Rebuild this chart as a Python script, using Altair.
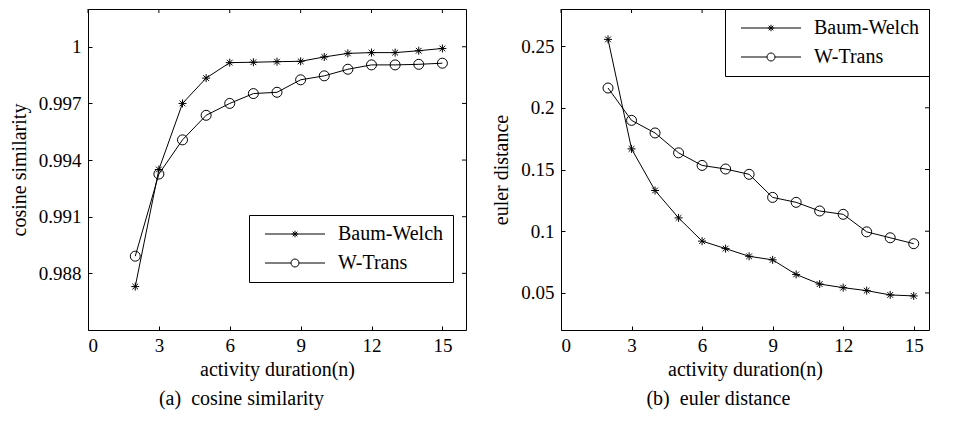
import altair as alt
import pandas as pd

# ---------------- data ----------------
n_values = list(range(2, 16))
series_names = ["Baum-Welch", "W-Trans"]

cos_baum_welch = [0.98730, 0.99350, 0.99700, 0.99834, 0.99916, 0.99918, 0.99921,
                  0.99923, 0.99946, 0.99965, 0.99969, 0.99969, 0.99979, 0.99991]
cos_w_trans = [0.98891, 0.99326, 0.99507, 0.99637, 0.99700, 0.99752, 0.99759,
               0.99825, 0.99846, 0.99881, 0.99904, 0.99904, 0.99907, 0.99913]

euler_baum_welch = [0.2554, 0.1667, 0.1330, 0.1108, 0.0920, 0.0859, 0.0797,
                    0.0768, 0.0650, 0.0572, 0.0543, 0.0519, 0.0484, 0.0476]
euler_w_trans = [0.2160, 0.1898, 0.1796, 0.1635, 0.1533, 0.1504, 0.1461,
                 0.1274, 0.1234, 0.1164, 0.1137, 0.0995, 0.0947, 0.0899]

x_tick_values = [0, 3, 6, 9, 12, 15]
cos_tick_values = [0.988, 0.991, 0.994, 0.997, 1.0]
euler_tick_values = [0.05, 0.1, 0.15, 0.2, 0.25]

FONT = "Liberation Serif"

# marker paths (unit square, scaled by sqrt(size)/2)
AST = ("M0,-0.8L0,0.8M-0.8,0L0.8,0M-0.57,-0.57L0.57,0.57M-0.57,0.57L0.57,-0.57")
# legend symbols: line + marker, units of 5px (size 100)
LEG_BW = ("M-0.6,0L11.4,0"
          "M5.4,-0.65L5.4,0.65M4.75,0L6.05,0"
          "M4.94,-0.46L5.86,0.46M4.94,0.46L5.86,-0.46")
LEG_WT = ("M-0.6,0L4.6,0M6.2,0L11.4,0"
          "M6.2,0A0.8,0.8,0,1,1,4.6,0A0.8,0.8,0,1,1,6.2,0")

TICK = 4
HEIGHT = 321


def panel(bw, wt, ydomain, yticks, yfmt, ytitle, xmax, width, legx, legy, caption):
    df = pd.DataFrame({
        "n": n_values * 2,
        "v": bw + wt,
        "series": [series_names[0]] * len(n_values) + [series_names[1]] * len(n_values),
    })
    xs = alt.Scale(domain=[0, xmax], nice=False, zero=False)
    ys = alt.Scale(domain=ydomain, nice=False, zero=False)
    base = alt.Chart(df)

    common_axis = dict(offset=-TICK, tickSize=TICK, domain=False, grid=False,
                       tickColor="black", tickWidth=1)

    lines = base.mark_line(color="black", strokeWidth=1).encode(
        x=alt.X("n:Q", scale=xs, axis=alt.Axis(
            orient="bottom", values=x_tick_values, labelPadding=6,
            title="activity duration(n)", titlePadding=4, **common_axis)),
        y=alt.Y("v:Q", scale=ys, axis=alt.Axis(
            orient="left", values=yticks, format=yfmt, labelPadding=7,
            title=ytitle, titlePadding=9, **common_axis)),
        detail="series:N",
    )

    # mirrored inward ticks on the top and right edges of the box
    top_ticks = alt.Chart(pd.DataFrame({"t": x_tick_values})).mark_rule(
        color="black", strokeWidth=1).encode(
        x=alt.X("t:Q", scale=xs, axis=None),
        y=alt.value(0), y2=alt.value(TICK),
    )
    right_ticks = alt.Chart(pd.DataFrame({"t": yticks})).mark_rule(
        color="black", strokeWidth=1).encode(
        y=alt.Y("t:Q", scale=ys, axis=None),
        x=alt.value(width - TICK), x2=alt.value(width),
    )

    points = base.mark_point(filled=False, color="black", strokeWidth=1, size=100,
                             fillOpacity=0).encode(
        x=alt.X("n:Q", scale=xs, axis=None),
        y=alt.Y("v:Q", scale=ys, axis=None),
        shape=alt.Shape("series:N", scale=alt.Scale(domain=series_names,
                                                    range=[AST, "circle"]),
                        legend=None),
    )

    legend_layer = base.mark_point(opacity=0).encode(
        x=alt.X("n:Q", scale=xs, axis=None),
        y=alt.Y("v:Q", scale=ys, axis=None),
        shape=alt.Shape("series:N", scale=alt.Scale(domain=series_names,
                                                    range=[LEG_BW, LEG_WT]),
                        legend=alt.Legend(
                            orient="none", legendX=legx, legendY=legy, title=None,
                            symbolSize=100, symbolStrokeColor="black",
                            symbolStrokeWidth=1, symbolFillColor="transparent",
                            symbolOpacity=1, labelFont=FONT, labelFontSize=20,
                            labelColor="black", labelOffset=60, padding=9,
                            rowPadding=9, strokeColor="black", fillColor="white",
                            labelLimit=300)),
    )

    return alt.layer(lines, top_ticks, right_ticks, points, legend_layer).resolve_axis(
        x="independent", y="independent"
    ).resolve_scale(shape="independent").properties(
        width=width, height=HEIGHT,
        title=alt.TitleParams(text=caption, orient="bottom", anchor="middle",
                              frame="bounds", font=FONT, fontSize=20,
                              fontWeight="normal", color="black", offset=10),
    )


left = panel(cos_baum_welch, cos_w_trans, [0.985, 1.002], cos_tick_values, ".3~f",
             "cosine similarity", 16, 378, 161, 206, "(a)\u00a0 cosine similarity")
right = panel(euler_baum_welch, euler_w_trans, [0.02, 0.28], euler_tick_values, ".2~f",
              "euler distance", 15.65, 368, 164, 0, "(b)\u00a0 euler distance")

chart = alt.hconcat(left, right, spacing=16).properties(
    padding={"left": 0, "top": 0, "right": 0, "bottom": 0}
).configure_view(stroke="black", strokeWidth=1).configure_axis(
    labelFont=FONT, labelFontSize=19, labelColor="black",
    titleFont=FONT, titleFontSize=20, titleFontWeight="normal", titleColor="black",
)

chart.save("out.html", embed_options={"renderer": "svg", "actions": False})
